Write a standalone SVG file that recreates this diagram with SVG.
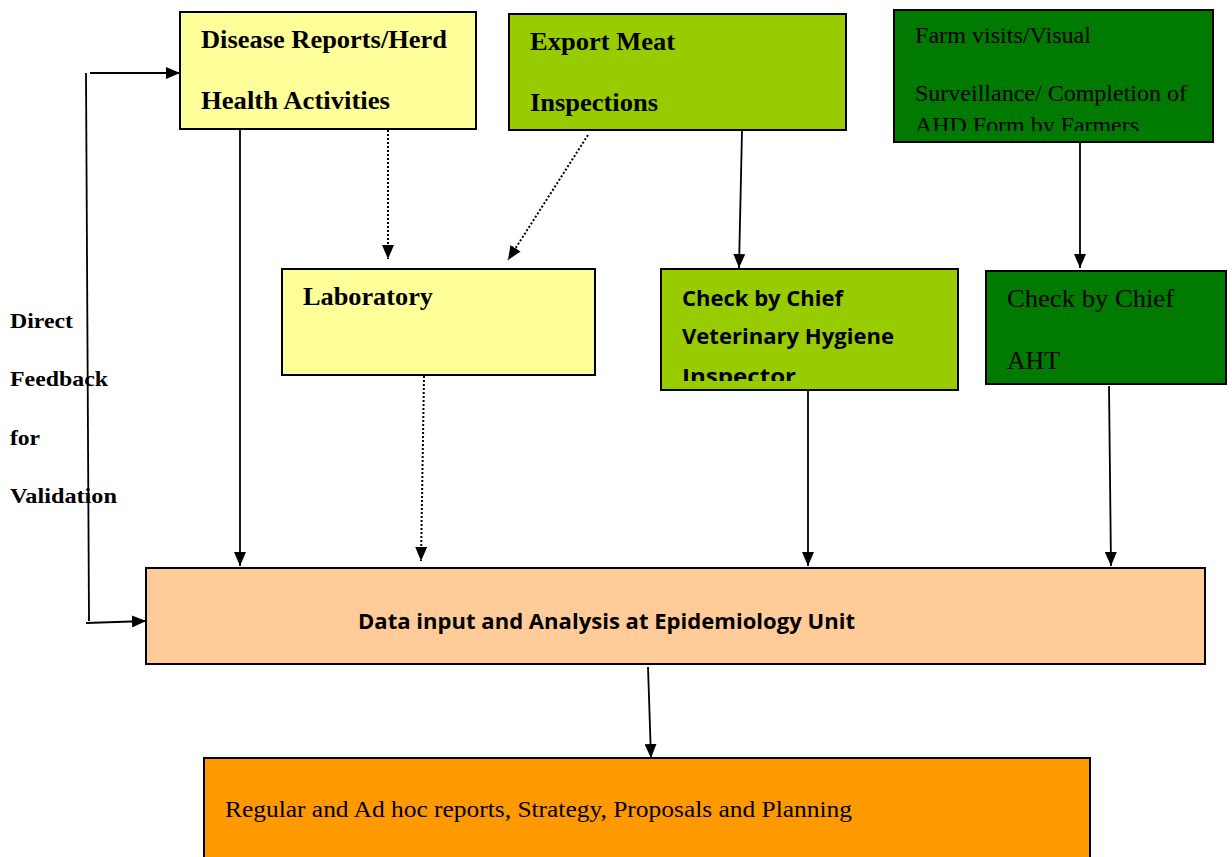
<svg xmlns="http://www.w3.org/2000/svg" width="1232" height="857" viewBox="0 0 1232 857">
<style>
.box{stroke:#000;stroke-width:2}
.ser{font-family:"Liberation Serif","Times New Roman",serif;fill:#000}
.b{font-weight:bold}
.cal{font-family:"Open Sans","Liberation Sans",sans-serif;font-weight:bold;fill:#000}
.cam{font-family:"Liberation Serif",serif;fill:#000}
.ln{stroke:#000;stroke-width:1.8;fill:none}
.dot{stroke:#000;stroke-width:2;fill:none;stroke-dasharray:2 2}
</style>
<defs>
<marker id="ah" viewBox="0 0 14 12" refX="14" refY="6" markerWidth="14" markerHeight="12" markerUnits="userSpaceOnUse" orient="auto">
<path d="M0,0 L14,6 L0,12 Z" fill="#000"/>
</marker>
<clipPath id="cf"><rect x="894" y="10" width="320" height="121"/></clipPath>
<clipPath id="cv"><rect x="661" y="269" width="298" height="112"/></clipPath>
</defs>
<rect width="1232" height="857" fill="#fff"/>
<g id="n-disease">
<rect class="box" x="180" y="12" width="296" height="117" fill="#FFFF99"/>
<text class="ser b" x="201" y="48" font-size="25" textLength="246" lengthAdjust="spacingAndGlyphs">Disease Reports/Herd</text>
<text class="ser b" x="201" y="109" font-size="25" textLength="189" lengthAdjust="spacingAndGlyphs">Health Activities</text>
</g>
<g id="n-export">
<rect class="box" x="509" y="14" width="337" height="116" fill="#99CC00"/>
<text class="ser b" x="530" y="50" font-size="25" textLength="145" lengthAdjust="spacingAndGlyphs">Export Meat</text>
<text class="ser b" x="530" y="111" font-size="25" textLength="128" lengthAdjust="spacingAndGlyphs">Inspections</text>
</g>
<g id="n-farm">
<rect class="box" x="894" y="10" width="319" height="132" fill="#007A00"/>
<g clip-path="url(#cf)">
<text class="ser" x="915" y="43" font-size="23" textLength="176" lengthAdjust="spacingAndGlyphs">Farm visits/Visual</text>
<text class="ser" x="915" y="101" font-size="23" textLength="272" lengthAdjust="spacingAndGlyphs">Surveillance/ Completion of</text>
<text class="ser" x="915" y="133" font-size="23" textLength="224" lengthAdjust="spacingAndGlyphs">AHD Form by Farmers</text>
</g>
</g>
<g id="n-lab">
<rect class="box" x="282" y="269" width="313" height="106" fill="#FFFF99"/>
<text class="ser b" x="303" y="305" font-size="25" textLength="130" lengthAdjust="spacingAndGlyphs">Laboratory</text>
</g>
<g id="n-vhi">
<rect class="box" x="661" y="269" width="297" height="121" fill="#99CC00"/>
<g clip-path="url(#cv)">
<text class="cal" x="682" y="306" font-size="21" textLength="161" lengthAdjust="spacingAndGlyphs">Check by Chief</text>
<text class="cal" x="682" y="344" font-size="21" textLength="212" lengthAdjust="spacingAndGlyphs">Veterinary Hygiene</text>
<text class="cal" x="682" y="384" font-size="21" textLength="114" lengthAdjust="spacingAndGlyphs">Inspector</text>
</g>
</g>
<g id="n-aht">
<rect class="box" x="986" y="271" width="240" height="113" fill="#007A00"/>
<text class="ser" x="1007" y="307" font-size="26" textLength="167" lengthAdjust="spacingAndGlyphs">Check by Chief</text>
<text class="ser" x="1007" y="369" font-size="26" textLength="53" lengthAdjust="spacingAndGlyphs">AHT</text>
</g>
<g id="n-data">
<rect class="box" x="146" y="568" width="1059" height="96" fill="#FFCC99"/>
<text class="cal" x="358" y="629" font-size="21" textLength="497" lengthAdjust="spacingAndGlyphs">Data input and Analysis at Epidemiology Unit</text>
</g>
<g id="n-reports">
<rect class="box" x="204" y="758" width="886" height="110" fill="#FF9900"/>
<text class="cam" x="225" y="817" font-size="23" textLength="627" lengthAdjust="spacingAndGlyphs">Regular and Ad hoc reports, Strategy, Proposals and Planning</text>
</g>
<g id="label-feedback">
<text class="ser b" x="10" y="328" font-size="22" textLength="63" lengthAdjust="spacingAndGlyphs">Direct</text>
<text class="ser b" x="10" y="386" font-size="22" textLength="98" lengthAdjust="spacingAndGlyphs">Feedback</text>
<text class="ser b" x="10" y="445" font-size="22" textLength="30" lengthAdjust="spacingAndGlyphs">for</text>
<text class="ser b" x="10" y="503" font-size="22" textLength="107" lengthAdjust="spacingAndGlyphs">Validation</text>
</g>
<g id="connectors">
<line class="ln" x1="240" y1="130" x2="240" y2="566" marker-end="url(#ah)"/>
<line class="dot" x1="388" y1="130" x2="388" y2="259" marker-end="url(#ah)"/>
<line class="dot" x1="588" y1="135" x2="508" y2="260" marker-end="url(#ah)"/>
<line class="ln" x1="742" y1="131" x2="739" y2="268" marker-end="url(#ah)"/>
<line class="ln" x1="1080" y1="143" x2="1080" y2="268" marker-end="url(#ah)"/>
<line class="dot" x1="424" y1="376" x2="421" y2="561" marker-end="url(#ah)"/>
<line class="ln" x1="808" y1="391" x2="808" y2="566" marker-end="url(#ah)"/>
<line class="ln" x1="1109" y1="386" x2="1111" y2="566" marker-end="url(#ah)"/>
<line class="ln" x1="648" y1="667" x2="651" y2="758" marker-end="url(#ah)"/>
<line class="ln" x1="86" y1="73" x2="89" y2="621"/>
<line class="ln" x1="90" y1="73" x2="180" y2="73" marker-end="url(#ah)"/>
<line class="ln" x1="86" y1="623" x2="146" y2="621" marker-end="url(#ah)"/>
</g>
</svg>
